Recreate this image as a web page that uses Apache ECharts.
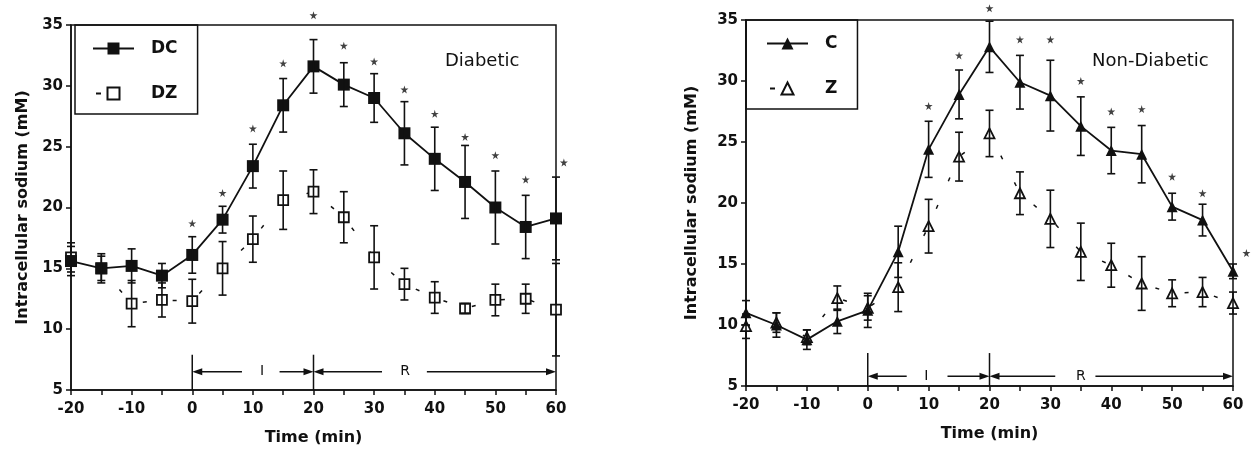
<!DOCTYPE html>
<html>
<head>
<meta charset="utf-8">
<title>Intracellular sodium</title>
<script src="https://cdn.jsdelivr.net/npm/echarts@6/dist/echarts.min.js"></script>
<style>
  html, body { margin: 0; padding: 0; background: #fff; }
  #main { width: 1251px; height: 454px; }
</style>
</head>
<body>
<div id="main"></div>
<script>
// time points (min)
var time = [-20, -15, -10, -5, 0, 5, 10, 15, 20, 25, 30, 35, 40, 45, 50, 55, 60];

// diabetic
var dc    = [15.6, 15.0, 15.2, 14.4, 16.1, 19.0, 23.4, 28.4, 31.6, 30.1, 29.0, 26.1, 24.0, 22.1, 20.0, 18.4, 19.1];
var dcErr = [1.2, 1.2, 1.4, 1.0, 1.5, 1.1, 1.8, 2.2, 2.2, 1.8, 2.0, 2.6, 2.6, 3.0, 3.0, 2.6, 3.4];
var dz    = [15.9, 15.0, 12.1, 12.4, 12.3, 15.0, 17.4, 20.6, 21.3, 19.2, 15.9, 13.7, 12.6, 11.7, 12.4, 12.5, 11.6];
var dzErr = [1.2, 1.0, 1.9, 1.4, 1.8, 2.2, 1.9, 2.4, 1.8, 2.1, 2.6, 1.3, 1.3, 0.4, 1.3, 1.2, 3.8];

// non-diabetic
var c    = [11.0, 10.0, 8.8, 10.3, 11.2, 16.0, 24.4, 28.9, 32.8, 29.9, 28.8, 26.3, 24.3, 24.0, 19.7, 18.6, 14.4];
var cErr = [1.0, 1.0, 0.8, 1.0, 1.4, 2.1, 2.3, 2.0, 2.1, 2.2, 2.9, 2.4, 1.9, 2.35, 1.1, 1.3, 0.6];
var z    = [9.9, 10.2, 9.0, 12.2, 11.4, 13.1, 18.1, 23.8, 25.7, 20.8, 18.7, 16.0, 14.9, 13.4, 12.6, 12.7, 11.8];
var zErr = [1.0, 0.8, 0.6, 1.0, 1.0, 2.0, 2.2, 2.0, 1.9, 1.75, 2.35, 2.35, 1.8, 2.2, 1.1, 1.2, 0.9];

// significance stars (x, y where drawn)
var starLeftX  = [0, 5, 10, 15, 20, 25, 30, 35, 40, 45, 50, 55, 61.3];
var starLeftY  = [18.7, 21.2, 26.5, 31.85, 35.8, 33.3, 32.0, 29.7, 27.7, 25.8, 24.3, 22.3, 23.7];
var starRightX = [10, 15, 20, 25, 30, 35, 40, 45, 50, 55, 62.2];
var starRightY = [27.95, 32.1, 35.96, 33.4, 33.4, 30.0, 27.5, 27.7, 22.15, 20.8, 15.9];

var FONT = 'DejaVu Sans';
var INK = '#111';
var STAR = 'path://M50,0 L61,35 L98,35 L68,57 L79,91 L50,70 L21,91 L32,57 L2,35 L39,35 Z';

function pairs(ys) {
  return time.map(function (t, i) { return [t, ys[i]]; });
}
function errData(ys, es) {
  return time.map(function (t, i) { return [t, ys[i] - es[i], ys[i] + es[i]]; });
}
function zipXY(xs, ys) {
  return xs.map(function (x, i) { return [x, ys[i]]; });
}

function renderErr(params, api) {
  var lo = api.coord([api.value(0), api.value(1)]);
  var hi = api.coord([api.value(0), api.value(2)]);
  var w = 4;
  var st = { stroke: INK, lineWidth: 1.6 };
  return {
    type: 'group',
    children: [
      { type: 'line', shape: { x1: lo[0], y1: lo[1], x2: hi[0], y2: hi[1] }, style: st },
      { type: 'line', shape: { x1: lo[0] - w, y1: lo[1], x2: lo[0] + w, y2: lo[1] }, style: st },
      { type: 'line', shape: { x1: hi[0] - w, y1: hi[1], x2: hi[0] + w, y2: hi[1] }, style: st }
    ]
  };
}

// I / R phase arrows under the curves
function phaseRender(cfg) {
  return function (params, api) {
    var kids = [];
    var st = { stroke: INK, lineWidth: 1.5 };
    cfg.marks.forEach(function (t) {
      var p0 = api.coord([t, 5]), p1 = api.coord([t, cfg.top]);
      kids.push({ type: 'line', shape: { x1: p0[0], y1: p0[1], x2: p1[0], y2: p1[1] }, style: st });
    });
    cfg.segs.forEach(function (s) {
      var a = api.coord([s[0], cfg.y]), b = api.coord([s[1], cfg.y]);
      var d = b[0] > a[0] ? 1 : -1;
      kids.push({ type: 'line', shape: { x1: a[0], y1: a[1], x2: b[0] - d * 6, y2: b[1] }, style: st });
      kids.push({ type: 'polygon', shape: { points: [[b[0], b[1]], [b[0] - d * 10, b[1] - 3.5], [b[0] - d * 10, b[1] + 3.5]] }, style: { fill: INK } });
    });
    cfg.labels.forEach(function (l) {
      var p = api.coord([l[0], cfg.y]);
      kids.push({ type: 'text', x: p[0], y: p[1], style: { text: l[1], fill: INK, font: '14px ' + FONT, align: 'center', verticalAlign: 'middle' } });
    });
    return { type: 'group', children: kids };
  };
}

var chart = echarts.init(document.getElementById('main'));

function xAxisCfg(idx) {
  return {
    type: 'value', gridIndex: idx, min: -20, max: 60, interval: 10,
    name: 'Time (min)', nameLocation: 'middle', nameGap: 40,
    nameTextStyle: { fontFamily: FONT, fontWeight: 'bold', fontSize: 16, color: INK },
    axisLine: { onZero: false, lineStyle: { color: INK, width: 1.5 } },
    axisTick: { length: 5, lineStyle: { color: INK, width: 1.5 } },
    minorTick: { show: true, splitNumber: 2, length: 5, lineStyle: { color: INK, width: 1.5 } },
    axisLabel: { margin: 12, fontFamily: FONT, fontWeight: 'bold', fontSize: 15, color: INK },
    splitLine: { show: false }
  };
}
function yAxisCfg(idx, gap) {
  return {
    type: 'value', gridIndex: idx, min: 5, max: 35, interval: 5,
    name: 'Intracellular sodium (mM)', nameLocation: 'middle', nameGap: gap,
    nameTextStyle: { fontFamily: FONT, fontWeight: 'bold', fontSize: 16, color: INK },
    axisLine: { onZero: false, lineStyle: { color: INK, width: 1.5 } },
    axisTick: { length: 5, lineStyle: { color: INK, width: 1.5 } },
    axisLabel: { margin: 8, fontFamily: FONT, fontWeight: 'bold', fontSize: 15, color: INK },
    splitLine: { show: false }
  };
}

// legend entry for the dashed series shows a single short dash on the left
function legendCfg(solid, dashed, left, top, pad) {
  return {
    data: [solid, { name: dashed, lineStyle: { type: [5, 60], dashOffset: -3 } }],
    orient: 'vertical', left: left, top: top,
    padding: pad, itemWidth: 41, itemHeight: 15, itemGap: 28,
    borderColor: INK, borderWidth: 1.5, borderRadius: 0,
    selectedMode: false,
    textStyle: { fontFamily: FONT, fontWeight: 'bold', fontSize: 17, color: INK, padding: [0, 0, 0, 12] }
  };
}

var option = {
  backgroundColor: '#fff',
  animation: false,
  grid: [
    { left: 71, top: 25, width: 485, height: 365, show: true, borderColor: INK, borderWidth: 1.5, backgroundColor: 'transparent' },
    { left: 746, top: 20, width: 487, height: 366, show: true, borderColor: INK, borderWidth: 1.5, backgroundColor: 'transparent' }
  ],
  title: [
    { text: 'Diabetic', left: 445, top: 52, padding: 0, textStyle: { fontFamily: FONT, fontWeight: 'normal', fontSize: 18, color: INK } },
    { text: 'Non-Diabetic', left: 1092, top: 52, padding: 0, textStyle: { fontFamily: FONT, fontWeight: 'normal', fontSize: 18, color: INK } }
  ],
  legend: [
    legendCfg('DC', 'DZ', 75, 25, [15, 20, 12, 17]),
    legendCfg('C', 'Z', 746, 20, [15, 20, 12, 20])
  ],
  xAxis: [xAxisCfg(0), xAxisCfg(1)],
  yAxis: [yAxisCfg(0, 40), yAxisCfg(1, 46)],
  series: [
    {
      name: 'DZ', type: 'line', xAxisIndex: 0, yAxisIndex: 0, data: pairs(dz),
      symbol: 'rect', symbolSize: 10, z: 3,
      lineStyle: { color: INK, width: 1.5, type: [4, 26], dashOffset: 0 },
      itemStyle: { color: '#fff', borderColor: INK, borderWidth: 1.8 }
    },
    {
      name: 'DC', type: 'line', xAxisIndex: 0, yAxisIndex: 0, data: pairs(dc),
      symbol: 'rect', symbolSize: 12, z: 4,
      lineStyle: { color: INK, width: 1.8 },
      itemStyle: { color: INK }
    },
    {
      name: 'Z', type: 'line', xAxisIndex: 1, yAxisIndex: 1, data: pairs(z),
      symbol: 'triangle', symbolSize: 10, z: 3,
      lineStyle: { color: INK, width: 1.5, type: [4, 26], dashOffset: 0 },
      itemStyle: { color: '#fff', borderColor: INK, borderWidth: 1.8 }
    },
    {
      name: 'C', type: 'line', xAxisIndex: 1, yAxisIndex: 1, data: pairs(c),
      symbol: 'triangle', symbolSize: 11, z: 4,
      lineStyle: { color: INK, width: 1.8 },
      itemStyle: { color: INK }
    },
    { type: 'custom', name: 'errDZ', xAxisIndex: 0, yAxisIndex: 0, data: errData(dz, dzErr), renderItem: renderErr, z: 5 },
    { type: 'custom', name: 'errDC', xAxisIndex: 0, yAxisIndex: 0, data: errData(dc, dcErr), renderItem: renderErr, z: 5 },
    { type: 'custom', name: 'errZ', xAxisIndex: 1, yAxisIndex: 1, data: errData(z, zErr), renderItem: renderErr, z: 5 },
    { type: 'custom', name: 'errC', xAxisIndex: 1, yAxisIndex: 1, data: errData(c, cErr), renderItem: renderErr, z: 5 },
    {
      type: 'scatter', name: 'starsL', xAxisIndex: 0, yAxisIndex: 0, data: zipXY(starLeftX, starLeftY),
      symbol: STAR, symbolSize: 8, clip: false, itemStyle: { color: INK }, z: 6
    },
    {
      type: 'scatter', name: 'starsR', xAxisIndex: 1, yAxisIndex: 1, data: zipXY(starRightX, starRightY),
      symbol: STAR, symbolSize: 8, clip: false, itemStyle: { color: INK }, z: 6
    },
    {
      type: 'custom', name: 'phaseL', xAxisIndex: 0, yAxisIndex: 0, data: [[20, 6.5]], z: 2,
      renderItem: phaseRender({ y: 6.5, top: 7.9, marks: [0, 20],
        segs: [[8.2, 0], [14.4, 20], [31.3, 20], [38.7, 60]],
        labels: [[11.5, 'I'], [35.1, 'R']] })
    },
    {
      type: 'custom', name: 'phaseR', xAxisIndex: 1, yAxisIndex: 1, data: [[20, 5.8]], z: 2,
      renderItem: phaseRender({ y: 5.8, top: 7.7, marks: [0, 20],
        segs: [[6.4, 0], [13.1, 20], [30.8, 20], [37.4, 60]],
        labels: [[9.6, 'I'], [35.0, 'R']] })
    }
  ]
};

chart.setOption(option);
</script>
</body>
</html>
